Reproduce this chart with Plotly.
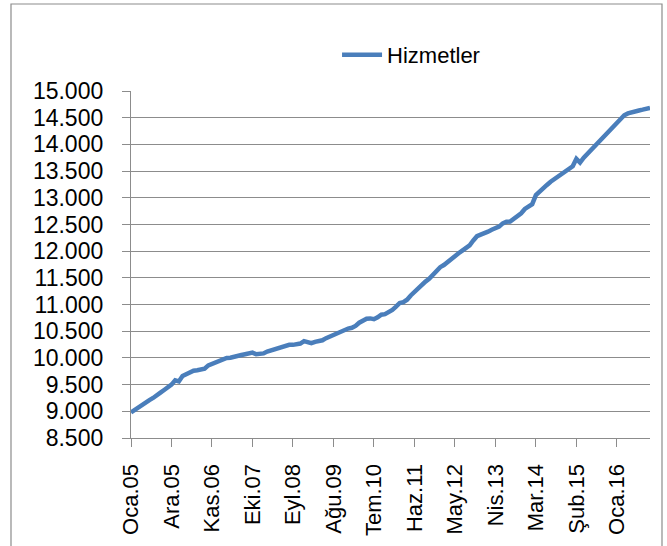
import plotly.graph_objects as go

# Turkish month abbreviations
months = ["Oca", "Şub", "Mar", "Nis", "May", "Haz", "Tem", "Ağu", "Eyl", "Eki", "Kas", "Ara"]
start_year = 2005
n_points = 142

categories = []
for k in range(n_points):
    y = start_year + k // 12
    categories.append(f"{months[k % 12]}.{str(y)[2:]}")

hizmetler = [
    # 2005
    8980, 9030, 9070, 9110, 9160, 9210, 9250, 9290, 9350, 9400, 9450, 9500,
    # 2006
    9580, 9560, 9660, 9700, 9740, 9760, 9770, 9780, 9800, 9860, 9890, 9920,
    # 2007
    9945, 9990, 10000, 10005, 10015, 10030, 10055, 10070, 10090, 10100, 10070, 10080,
    # 2008
    10085, 10120, 10140, 10170, 10195, 10220, 10235, 10245, 10245, 10255, 10270, 10315,
    # 2009
    10290, 10275, 10300, 10310, 10330, 10370, 10400, 10440, 10480, 10500, 10535, 10550,
    # 2010
    10565, 10600, 10660, 10690, 10735, 10740, 10725, 10760, 10810, 10820, 10850, 10900,
    # 2011
    10960, 11030, 11045, 11090, 11170, 11240, 11320, 11380, 11430, 11480, 11560, 11620,
    # 2012
    11700, 11740, 11800, 11860, 11910, 11960, 12010, 12060, 12110, 12200, 12280, 12310,
    # 2013
    12330, 12365, 12400, 12430, 12460, 12520, 12550, 12555, 12600, 12640, 12710, 12790,
    # 2014
    12840, 12880, 13050, 13120, 13180, 13240, 13300, 13350, 13400, 13440, 13500, 13540,
    # 2015
    13590, 13730, 13660, 13750, 13820, 13890, 13960, 14040, 14110, 14180, 14260, 14330,
    # 2016
    14390, 14470, 14545, 14580, 14605, 14620, 14635, 14650, 14665, 14685,
]

tick_labels = categories[::11]
y_ticks = list(range(8500, 15001, 500))

FONT = "Liberation Sans"
GRID = "#8c8c8c"

fig = go.Figure()
fig.add_trace(go.Scatter(
    x=categories, y=hizmetler, mode="lines", name="Hizmetler",
    line=dict(color="#4A7EBB", width=4.5, shape="linear"),
))

fig.update_layout(
    width=667, height=546,
    margin=dict(l=131, r=17, t=91, b=108, autoexpand=False),
    paper_bgcolor="white", plot_bgcolor="white",
    separators=",.",
    font=dict(family=FONT, size=22, color="black"),
    showlegend=True,
    legend=dict(orientation="h", x=0.397, y=1.104, xanchor="left", yanchor="middle",
                font=dict(family=FONT, size=22, color="black"),
                bgcolor="rgba(0,0,0,0)", itemwidth=40),
    xaxis=dict(
        type="category", range=[0, n_points - 1], automargin=False,
        tickmode="array", tickvals=tick_labels, ticktext=tick_labels,
        tickangle=-90, ticks="outside", ticklen=8, tickcolor=GRID, tickwidth=1.3,
        showgrid=False, showline=True, linecolor=GRID, linewidth=1.3,
        ticklabelstandoff=8,
        tickfont=dict(family=FONT, size=22, color="black"),
        zeroline=False,
    ),
    yaxis=dict(
        range=[8500, 15000], tickmode="array", tickvals=y_ticks, automargin=False,
        tickformat=",d", ticks="outside", ticklen=8, tickcolor=GRID, tickwidth=1.3,
        showgrid=True, gridcolor=GRID, gridwidth=1.3,
        showline=True, linecolor=GRID, linewidth=1.3,
        ticklabelstandoff=14,
        tickfont=dict(family=FONT, size=23, color="black"),
        zeroline=False,
    ),
    shapes=[dict(type="rect", xref="paper", yref="paper",
                 x0=(11 - 131) / 519, x1=(662 - 131) / 519,
                 y0=(438 - 560) / 347, y1=(438 - 4) / 347,
                 line=dict(color="#8c8c8c", width=1.2), fillcolor="rgba(0,0,0,0)",
                 layer="below")],
)

fig.write_html("out.html", config={"displayModeBar": False},
               post_script="document.body.style.margin='0';document.body.style.overflow='hidden';")
